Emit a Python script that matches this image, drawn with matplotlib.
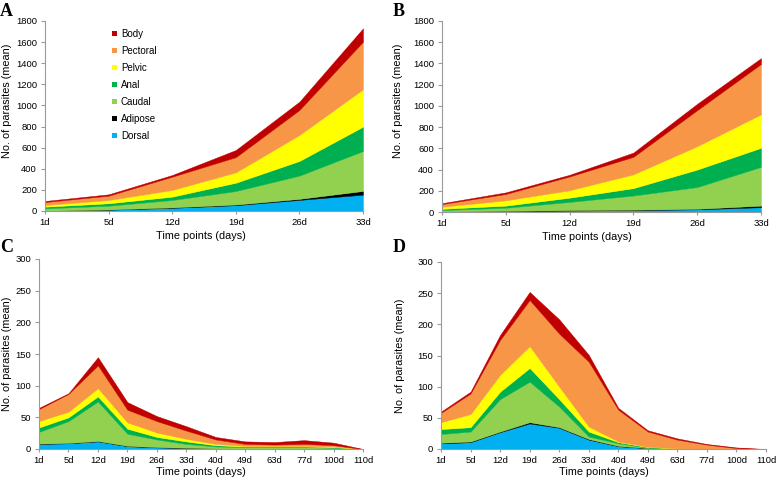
import matplotlib
matplotlib.use('Agg')
import numpy as np
from matplotlib import pyplot as plt
from matplotlib.patches import Patch

plt.rcParams['font.family'] = ['Liberation Sans', 'DejaVu Sans']

# stacking order, bottom to top
series_names = ['Dorsal', 'Adipose', 'Caudal', 'Anal', 'Pelvic', 'Pectoral', 'Body']
series_colors = ['#00B0F0', '#000000', '#92D050', '#00B050', '#FFFF00', '#F79646', '#C00000']

days_short = ['1d', '5d', '12d', '19d', '26d', '33d']
days_long = ['1d', '5d', '12d', '19d', '26d', '33d', '40d', '49d', '63d', '77d', '100d', '110d']

# panel A
a_dorsal = [2, 12, 30, 55, 105, 155]
a_adipose = [1, 2, 4, 6, 10, 35]
a_caudal = [22, 36, 70, 128, 220, 378]
a_anal = [16, 23, 32, 79, 139, 231]
a_pelvic = [16, 31, 63, 98, 246, 354]
a_pectoral = [28, 41, 126, 144, 237, 451]
a_body = [10, 13, 16, 68, 79, 127]

# panel B
b_dorsal = [3, 7, 14, 18, 25, 45]
b_adipose = [2, 3, 4, 4, 5, 15]
b_caudal = [13, 30, 77, 133, 205, 365]
b_anal = [12, 20, 40, 70, 165, 180]
b_pelvic = [20, 50, 70, 130, 220, 315]
b_pectoral = [25, 60, 130, 165, 340, 475]
b_body = [8, 15, 16, 40, 60, 55]

# panel C
c_dorsal = [8, 9, 12, 4.5, 2.5, 1.5, 0.5, 0.3, 0.2, 0.2, 0.1, 0]
c_adipose = [0.5, 0.5, 0.6, 0.5, 0.5, 0.5, 0.5, 0.2, 0.2, 0.2, 0.2, 0]
c_caudal = [18.5, 34.5, 62.4, 19, 12, 6, 3, 2.5, 2.6, 2.6, 1.7, 0]
c_anal = [7, 6, 8, 8, 4, 4, 2, 1, 1, 1, 1, 0]
c_pelvic = [10, 9, 13, 10, 7, 4, 2, 1, 1, 1, 1, 0]
c_pectoral = [19, 28, 36, 20, 18, 13, 7, 3, 2, 3, 2, 0]
c_body = [2, 1, 13, 12, 8, 7, 4, 4, 4, 6, 4, 0]

# panel D
d_dorsal = [9, 11, 27, 41, 34, 15, 4.5, 1.2, 0.4, 0.2, 0.1, 0]
d_adipose = [1, 1, 1, 2, 1, 1, 0.5, 0.3, 0.1, 0.1, 0, 0]
d_caudal = [14, 16, 52, 65, 33, 4, 4, 0.5, 0.3, 0.1, 0.1, 0]
d_anal = [8, 7, 12, 22, 12, 8, 2, 1, 0.2, 0.1, 0, 0]
d_pelvic = [11, 21, 27, 35, 20, 8, 1, 0.5, 0.2, 0.1, 0.1, 0]
d_pectoral = [15, 33, 56, 74, 85, 104, 51, 24.5, 13.8, 6.4, 1.2, 0]
d_body = [2, 3, 8, 13, 23, 11, 3, 2, 2, 1, 1, 0]

W, H = 778, 484
fig = plt.figure(figsize=(W / 100, H / 100), dpi=100)

AXIS_GRAY = '#9a9a9a'


def px_axes(left, top, right, bottom):
    return fig.add_axes([left / W, 1 - bottom / H, (right - left) / W, (bottom - top) / H])


def draw_panel(ax, labels, layers, ymax, ystep, ylab_pos, xlab_pos):
    x = np.arange(len(labels))
    ax.stackplot(x, *layers, colors=series_colors, linewidth=0.3)
    for coll, c in zip(ax.collections, series_colors):
        coll.set_edgecolor(c)
    ax.set_xlim(0, len(labels) - 1)
    ax.set_ylim(0, ymax)
    ax.set_xticks(x)
    ax.set_xticklabels(labels)
    ax.set_yticks(np.arange(0, ymax + 1, ystep))
    for s in ['top', 'right']:
        ax.spines[s].set_visible(False)
    for s in ['left', 'bottom']:
        ax.spines[s].set_color(AXIS_GRAY)
        ax.spines[s].set_linewidth(0.8)
    ax.tick_params(axis='both', colors=AXIS_GRAY, labelcolor='black',
                   labelsize=6.8, width=0.8)
    ax.tick_params(axis='x', length=2.5, pad=2.3)
    ax.tick_params(axis='y', length=3, pad=2.8)
    ax.set_ylabel('No. of parasites (mean)', fontsize=7.8)
    ax.set_xlabel('Time points (days)', fontsize=7.8)
    ax.yaxis.set_label_coords(*ylab_pos)
    ax.xaxis.set_label_coords(*xlab_pos)


ax_a = px_axes(45, 21, 363, 211)
draw_panel(ax_a, days_short,
           [a_dorsal, a_adipose, a_caudal, a_anal, a_pelvic, a_pectoral, a_body],
           1800, 200, (-0.104, 0.58), (0.49, -0.105))

ax_b = px_axes(442, 21, 761, 212)
draw_panel(ax_b, days_short,
           [b_dorsal, b_adipose, b_caudal, b_anal, b_pelvic, b_pectoral, b_body],
           1800, 200, (-0.122, 0.58), (0.455, -0.105))

ax_c = px_axes(39, 259, 363, 449)
draw_panel(ax_c, days_long,
           [c_dorsal, c_adipose, c_caudal, c_anal, c_pelvic, c_pectoral, c_body],
           300, 50, (-0.083, 0.5), (0.5, -0.095))

ax_d = px_axes(441, 262, 766, 449)
draw_panel(ax_d, days_long,
           [d_dorsal, d_adipose, d_caudal, d_anal, d_pelvic, d_pectoral, d_body],
           300, 50, (-0.111, 0.5), (0.5, -0.096))

# legend in panel A, Body on top
handles = [Patch(facecolor=c, edgecolor='none') for c in series_colors][::-1]
ax_a.legend(handles, series_names[::-1], loc='upper left',
            bbox_to_anchor=(112 / W, 1 - 29 / H), bbox_transform=fig.transFigure,
            frameon=False, fontsize=7, handlelength=0.55, handleheight=0.55,
            handletextpad=0.35, labelspacing=0.72, borderpad=0, borderaxespad=0)

# panel letters
for letter, (px, py) in zip('ABCD', [(0, 16), (393, 16), (0, 252), (393, 252)]):
    fig.text(px / W, 1 - py / H, letter, fontsize=13, fontweight='bold',
             family=['Liberation Serif', 'DejaVu Serif'], va='baseline', ha='left')

fig.savefig('out.png', dpi=100)
